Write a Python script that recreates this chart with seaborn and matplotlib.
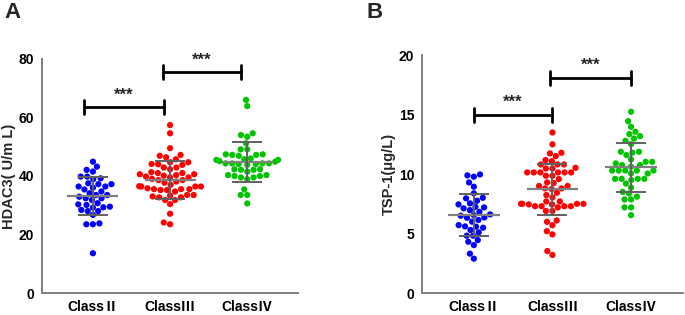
import matplotlib
matplotlib.use("Agg")
import matplotlib.pyplot as plt
import numpy as np
import pandas as pd
import seaborn as sns

# values
classes = ["Class\u2161", "Class\u2162", "Class\u2163"]
colors = ["#0000FF", "#FF0000", "#00C400"]

hdac3_c2 = [44.9, 43.2, 42.1, 41.5, 39.8, 39.2, 39.8, 38.9, 37.5, 37.2, 37.2, 36.0,
            36.4, 35.4, 36.4, 34.7, 33.5, 34.1, 33.5, 32.9, 31.8, 32.4, 32.4, 29.5,
            30.1, 30.3, 30.7, 28.0, 28.4, 28.0, 29.3, 29.2, 26.7, 23.8, 23.5, 23.5, 13.6]
hdac3_c3 = [57.4, 54.6, 49.5, 46.9, 46.4, 47.2, 45.7, 44.7, 44.7, 44.1, 43.8, 42.9,
            42.3, 42.9, 41.3, 40.6, 40.6, 40.1, 39.8, 40.3, 39.5, 41.0, 39.5, 38.6,
            38.6, 38.1, 37.7, 36.5, 36.4, 35.2, 35.8, 35.5, 35.5, 35.5, 35.2, 36.4,
            34.7, 33.3, 33.5, 33.5, 32.7, 32.7, 31.8, 31.8, 30.4, 27.1, 24.1, 23.5,
            36.4, 39.0, 41.0, 44.0, 37.0, 33.0]
hdac3_c4 = [66.0, 63.9, 54.0, 54.6, 53.4, 51.2, 49.1, 49.1, 47.4, 47.2, 47.2, 47.4,
            46.9, 45.7, 46.0, 45.5, 45.5, 45.1, 44.3, 44.3, 44.3, 44.1, 44.1, 44.3,
            44.9, 43.8, 42.3, 42.1, 42.1, 42.3, 41.5, 40.3, 39.5, 40.3, 40.0, 40.0,
            39.5, 38.9, 35.4, 33.5, 33.5, 30.6]

tsp1_c2 = [9.78, 9.97, 9.89, 9.30, 8.94, 8.38, 8.01, 7.96, 7.54, 7.45, 7.76, 7.25,
           7.20, 7.12, 6.83, 6.97, 6.55, 6.33, 6.50, 6.36, 6.61, 6.14, 6.00, 5.58,
           5.60, 5.71, 5.49, 5.30, 4.82, 5.10, 4.82, 4.45, 4.31, 4.03, 3.31, 2.89]
tsp1_c3 = [13.5, 12.5, 11.74, 11.79, 11.51, 11.09, 11.18, 10.81, 10.81, 10.81, 10.53,
           10.47, 10.47, 10.14, 10.14, 10.14, 10.14, 10.14, 10.14, 9.86, 9.86, 9.58,
           9.3, 9.25, 9.0, 9.0, 8.8, 8.8, 8.75, 8.43, 8.24, 8.04, 7.7, 7.7, 7.5, 7.5,
           7.5, 7.5, 7.45, 7.45, 7.3, 7.3, 7.3, 7.2, 7.3, 6.9, 6.9, 6.1, 5.99, 5.7,
           5.2, 4.93, 3.53, 3.2]
tsp1_c4 = [15.24, 14.45, 13.98, 13.56, 13.36, 13.19, 12.99, 12.80, 12.52, 11.88, 11.88,
           11.80, 11.6, 11.23, 11.03, 11.03, 10.90, 10.76, 10.76, 10.62, 10.3, 10.3,
           10.3, 10.3, 10.3, 10.05, 10.05, 9.6, 9.6, 9.6, 9.6, 9.5, 9.2, 8.87, 8.5,
           8.37, 8.1, 7.87, 7.87, 7.2, 7.2, 6.55]

hdac3_ticks = [0, 20, 40, 60, 80]
tsp1_ticks = [0, 5, 10, 15, 20]


def to_frame(groups):
    rows = []
    for name, vals in zip(classes, groups):
        rows += [(name, v) for v in vals]
    return pd.DataFrame(rows, columns=["group", "value"])


def draw_panel(ax, groups, ticks, ylabel, brackets):
    df = to_frame(groups)
    sns.swarmplot(data=df, x="group", y="value", hue="group", palette=colors,
                  order=classes, size=4.5, ax=ax, legend=False,
                  zorder=2, warn_thresh=1)
    # mean line and SD bars
    for i, vals in enumerate(groups):
        m, s = np.mean(vals), np.std(vals, ddof=1)
        ax.hlines(m, i - 0.33, i + 0.33, color="#808080", lw=1.6, zorder=3)
        ax.errorbar(i, m, yerr=s, fmt="none", ecolor="#606060", elinewidth=1.4,
                    capsize=11, capthick=1.4, zorder=3)
    # significance brackets
    top = ticks[-1]
    for x0, x1, y in brackets:
        h = top * 0.03
        ax.plot([x0, x1], [y, y], color="black", lw=2, clip_on=False, zorder=4)
        ax.plot([x0, x0], [y - h, y + h], color="black", lw=2, clip_on=False, zorder=4)
        ax.plot([x1, x1], [y - h, y + h], color="black", lw=2, clip_on=False, zorder=4)
        ax.text((x0 + x1) / 2, y + top * 0.02, "***", ha="center", va="bottom",
                fontsize=12, fontweight="bold", clip_on=False)

    ax.set_ylim(ticks[0], ticks[-1])
    ax.set_yticks(ticks)
    ax.set_xlim(-0.66, 2.66)
    ax.set_xlabel("")
    ax.set_ylabel(ylabel, fontsize=10.5, fontweight="bold", labelpad=2)
    ax.set_xticks(range(3))
    ax.set_xticklabels(classes, fontsize=10, fontweight="bold",
                       family=["Liberation Sans", "Noto Sans CJK SC", "DejaVu Sans"])
    for lab in ax.get_yticklabels():
        lab.set_fontweight("bold")
        lab.set_fontsize(10)
    for side in ["top", "right"]:
        ax.spines[side].set_visible(False)
    for side in ["left", "bottom"]:
        ax.spines[side].set_color("#808080")
        ax.spines[side].set_linewidth(1.4)
    ax.tick_params(axis="both", colors="#808080", width=1.2, length=4,
                   labelcolor="black", pad=1.5)
    ax.tick_params(axis="x", pad=1)


sns.set_style("white")
plt.rcParams["font.family"] = ["Liberation Sans", "Noto Sans CJK SC", "DejaVu Sans"]

fig = plt.figure(figsize=(6.85, 3.15), dpi=100)
ax_a = fig.add_axes([0.0613, 0.0698, 0.374, 0.743])
ax_b = fig.add_axes([0.616, 0.0698, 0.381, 0.755])

draw_panel(ax_a, [hdac3_c2, hdac3_c3, hdac3_c4], hdac3_ticks, "HDAC3( U/m L)",
           [(-0.12, 0.92, 63.6), (0.91, 1.92, 75.4)])
draw_panel(ax_b, [tsp1_c2, tsp1_c3, tsp1_c4], tsp1_ticks, "TSP-1(\u03bcg/L)",
           [(0.0, 1.0, 15.0), (0.97, 2.0, 18.1)])

fig.text(0.006, 0.995, "A", fontsize=16, fontweight="bold", ha="left", va="top")
fig.text(0.535, 0.995, "B", fontsize=16, fontweight="bold", ha="left", va="top")

fig.savefig("out.png", dpi=100)
